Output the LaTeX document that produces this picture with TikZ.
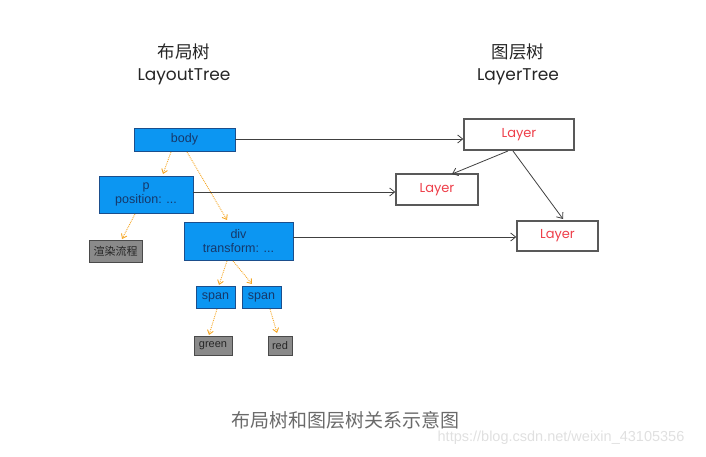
\documentclass[tikz,border=0pt]{standalone}
\usepackage{fontspec}
\setmainfont{Liberation Sans}
\newfontfamily\cjk{Noto Sans CJK SC}
\newfontfamily\hand{Poppins}
\usetikzlibrary{arrows.meta}
\definecolor{boxblue}{HTML}{0C96F2}
\definecolor{boxedge}{HTML}{1B4E8C}
\definecolor{boxtext}{HTML}{16386A}
\definecolor{grayfill}{HTML}{8A8A8A}
\definecolor{grayedge}{HTML}{4A4A4A}
\definecolor{orangeline}{HTML}{F5A623}
\definecolor{layerred}{HTML}{EE3F4A}
\definecolor{capgray}{HTML}{6A6A6A}
\tikzset{
  bluebox/.style={draw=boxedge, fill=boxblue, line width=0.8pt, inner sep=0pt,
    text=boxtext, font=\fontsize{12.5}{13.5}\selectfont, align=center},
  graybox/.style={draw=grayedge, fill=grayfill, line width=0.8pt, inner sep=0pt,
    text=black!85, font=\fontsize{11}{12}\selectfont},
  layerbox/.style={draw=black!65, line width=1.4pt, fill=white, inner sep=0pt,
    text=layerred, font=\hand\fontsize{13}{15}\selectfont},
  orarrow/.style={draw=orangeline, densely dotted, line width=0.9pt,
    -{Straight Barb[length=4pt,width=6pt]}},
  blarrow/.style={draw=black!75, line width=0.8pt,
    -{Straight Barb[length=5pt,width=8pt]}},
  title/.style={font=\cjk\fontsize{17.5}{19}\selectfont, text=black!85},
  entitle/.style={font=\hand\fontsize{17}{19}\selectfont, text=black!85},
}
\newcommand{\lyr}{\raisebox{-2.5pt}{Layer}}
\begin{document}
\begin{tikzpicture}[x=1pt,y=-1pt]
\useasboundingbox (0,0) rectangle (706,457);
% titles
\node[title] (t1) at (184,52) {布局树};
\node[entitle] (t1e) at (184,77) {LayoutTree};
\node[title] (t2) at (518,52) {图层树};
\node[entitle] (t2e) at (518,77) {LayerTree};
% layout tree
\node[bluebox, minimum width=101pt, minimum height=23pt] (body) at (184.5,139.5) {body};
\node[bluebox, minimum width=94pt, minimum height=37pt] (p) at (146,194.5) {p\\position: ...};
\node[graybox, minimum width=53pt, minimum height=22pt] (render) at (115.5,251) {\cjk 渲染流程};
\node[bluebox, minimum width=109pt, minimum height=38pt] (div) at (238.5,241) {div\\transform: ...};
\node[bluebox, minimum width=39pt, minimum height=22pt] (span1) at (215.5,297) {span};
\node[bluebox, minimum width=39pt, minimum height=22pt] (span2) at (261.5,297) {span};
\node[graybox, minimum width=38pt, minimum height=19pt] (green) at (213,345.5) {green};
\node[graybox, minimum width=24pt, minimum height=19pt] (red) at (280,345.5) {red};
% layer tree
\node[layerbox, minimum width=110pt, minimum height=31pt] (L1) at (519,134.5) {\lyr};
\node[layerbox, minimum width=82pt, minimum height=31pt] (L2) at (437,189.5) {\lyr};
\node[layerbox, minimum width=81pt, minimum height=30pt] (L3) at (557.5,236) {\lyr};
% helper coordinates
\coordinate (bA) at (171,152);
\coordinate (bB) at (187,152);
\coordinate (pA) at (135,214);
\coordinate (dA) at (227,261);
\coordinate (dB) at (233,261);
\coordinate (s1A) at (217,309);
\coordinate (s2A) at (270,309);
\coordinate (l1A) at (508,151);
\coordinate (l1B) at (513,151);
% orange arrows
\draw[orarrow] (bA) -- (163,174) coordinate (pT);
\draw[orarrow] (bB) -- (227,220) coordinate (dT);
\draw[orarrow] (pA) -- (122,239) coordinate (rT);
\draw[orarrow] (dA) -- (219,285) coordinate (s1T);
\draw[orarrow] (dB) -- (252,284) coordinate (s2T);
\draw[orarrow] (s1A) -- (209,335) coordinate (gT);
\draw[orarrow] (s2A) -- (277,333) coordinate (rdT);
% black arrows
\draw[blarrow] (body.east |- 0,139) -- (L1.west |- 0,139);
\draw[blarrow] (p.east |- 0,192) -- (L2.west |- 0,192);
\draw[blarrow] (div.east |- 0,237) -- (L3.west |- 0,237);
\draw[blarrow] (l1A) -- (452,174);
\draw[blarrow] (l1B) -- (563,219);
% caption
\node[font=\cjk\fontsize{19}{21}\selectfont, text=capgray] (cap) at (345.5,420) {布局树和图层树关系示意图};
\node[font=\fontsize{14.5}{16}\selectfont, text=black!12] (wm) at (561,438) {https://blog.csdn.net/weixin\_43105356};
\end{tikzpicture}
\end{document}
